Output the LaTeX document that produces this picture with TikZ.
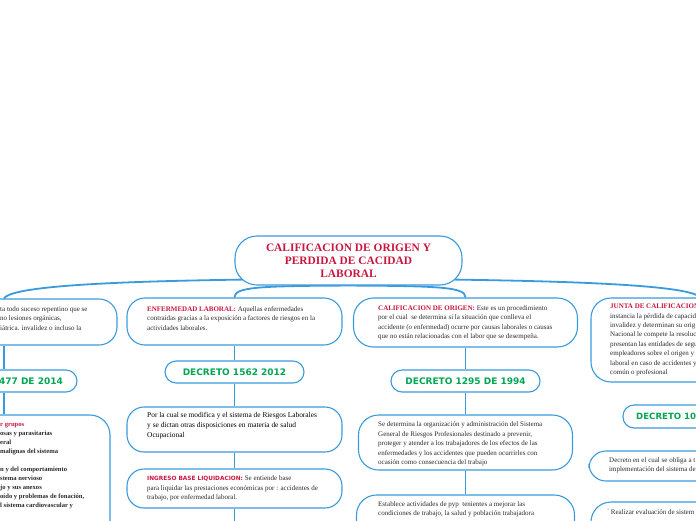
\documentclass[tikz,border=0pt]{standalone}
\usepackage{fontspec}
\setmainfont{Liberation Serif}
\newfontfamily\dvs{DejaVu Sans}
\usetikzlibrary{backgrounds}
\definecolor{bblue}{HTML}{3A9BDC}
\definecolor{tred}{HTML}{C8163F}
\definecolor{tgreen}{HTML}{00A651}
\definecolor{tbody}{HTML}{2B2B2B}
\definecolor{tbullet}{HTML}{A98FD8}
\begin{document}
\begin{tikzpicture}[x=1pt,y=-1pt,
  box/.style={draw=bblue, line width=1.1pt, fill=white, rounded corners=#1, inner sep=0pt},
  box/.default=18pt,
  conn/.style={draw=bblue, line width=1.8pt},
  txt/.style={inner sep=0pt, align=left, text=tbody, font=\fontsize{7}{9.4}\selectfont},
  dec/.style={font=\dvs\bfseries\fontsize{9}{11}\selectfont, text=tgreen, inner sep=0pt},
  hdr/.style={text=tred, font=\bfseries},
]
\useasboundingbox (0,0) rectangle (696,520);
\clip (0,0) rectangle (696,520);

% root
\node[box=22pt, minimum width=227pt, minimum height=49pt, align=center, text=tred,
      font=\bfseries\fontsize{11.4}{13}\selectfont] (root) at (348.5,260.5)
      {CALIFICACION DE ORIGEN Y\\PERDIDA DE CACIDAD\\LABORAL};

% column 1 (left, cut)
\node[box, minimum width=226pt, minimum height=46pt] (l1) at (4,322) {};
\node[txt, anchor=west] (l1t) at (0,318.5)
  {ta todo suceso repentino que se\\no lesiones orgánicas,\\iátrica. invalidez o incluso la};
\node[box=11pt, minimum width=146pt, minimum height=22pt] (dl) at (4,381) {};
\node[dec, anchor=east] (dlt) at (63,381) {477 DE 2014};
\node[box=20pt, minimum width=212pt, minimum height=155pt] (l3) at (4,492.5) {};
\node[txt, anchor=west, font=\bfseries\fontsize{6.6}{8.9}\selectfont] (l3t) at (0,466)
  {\textcolor{tred}{r grupos}\\osas y parasitarias\\eral\\malignas del sistema\\\mbox{}\\n y del comportamiento\\stema nervioso\\jo y sus anexos\\oído y problemas de fonación,\\l sistema cardiovascular y};

% column 2
\node[box, minimum width=215pt, minimum height=47pt] (b2) at (234.5,321.5) {};
\node[txt, anchor=west] (b2t) at (147,318.5)
  {{\color{tred}\bfseries ENFERMEDAD LABORAL:} Aquellas enfermedades\\contraidas gracias a la exposición a factores de riesgos en la\\actividades laborales.};
\node[box=11pt, minimum width=139pt, minimum height=22pt, dec] (d2) at (234.5,372) {DECRETO 1562 2012};
\node[box=17pt, minimum width=215pt, minimum height=45pt] (b2a) at (234.5,429.5) {};
\node[txt, anchor=west, font=\fontsize{7.4}{10}\selectfont, text=black] (b2at) at (147,426)
  {Por la cual se modifica y el sistema de Riesgos Laborales\\y se dictan otras disposiciones en materia de salud\\Ocupacional};
\node[box=17pt, minimum width=215pt, minimum height=39pt] (b2b) at (234.5,488.5) {};
\node[txt, anchor=west] (b2bt) at (147,488.7)
  {{\dvs\bfseries\color{tred}\fontsize{5.8}{9.4}\selectfont INGRESO BASE LIQUIDACION:} Se entiende base\\para liquidar las prestaciones económicas por : accidentes de\\trabajo, por enfermedad laboral.};
\coordinate (c2) at (234.5,530);

% column 3
\node[box=20pt, minimum width=224pt, minimum height=49pt] (b3) at (465.5,322.5) {};
\node[txt, anchor=west] (b3t) at (378,323)
  {{\color{tred}\bfseries CALIFICACION DE ORIGEN:} Este es un procedimiento\\por el cual\ \ se determina si la situación que conlleva el\\accidente (o enfermedad) ocurre por causas laborales o causas\\que no están relacionadas con el labor que se desempeña.};
\node[box=11pt, minimum width=149pt, minimum height=22pt, dec] (d3) at (465.5,381) {DECRETO 1295 DE 1994};
\node[box=20pt, minimum width=214pt, minimum height=55pt] (b3a) at (465.5,442.5) {};
\node[txt, anchor=west] (b3at) at (378,444)
  {Se determina la organización y administración del Sistema\\General de Riesgos Profesionales destinado a prevenir,\\proteger y atender a los trabajadores de los efectos de las\\enfermedades y los accidentes que pueden ocurrirles con\\ocasión como consecuencia del trabajo};
\node[box=20pt, minimum width=218pt, minimum height=50pt] (b3b) at (465.5,520) {};
\node[txt, anchor=west] (b3bt) at (378,509.5)
  {Establece actividades de pyp\ \ tenientes a mejorar las\\condiciones de trabajo, la salud y población trabajadora};

% column 4 (right, cut)
\node[box=20pt, minimum width=218pt, minimum height=84pt] (r1) at (700,340) {};
\node[txt, anchor=west] (r1t) at (610,340)
  {{\color{tred}\bfseries JUNTA DE CALIFICACION}\\instancia la pérdida de capacid\\invalidez y determinan su orig\\Nacional le compete la resoluc\\presentan las entidades de segu\\empleadores sobre el origen y\\laboral en caso de accidentes y\\común o profesional};
\node[box=11pt, minimum width=154pt, minimum height=23pt] (dr) at (700,416.5) {};
\node[dec, anchor=west, font=\dvs\bfseries\fontsize{8.6}{11}\selectfont] (drt) at (636,416.5) {DECRETO 10};
\node[box=17pt, minimum width=222pt, minimum height=30pt] (r3a) at (700,466) {};
\node[txt, anchor=west] (r3at) at (609,465.5)
  {Decreto en el cual se obliga a t\\implementación del sistema de};
\node[box=20pt, minimum width=218pt, minimum height=60pt] (r3b) at (700,532) {};
\node[txt, anchor=west] (r3bt) at (607,511.5)
  {\raisebox{1.5pt}{\textcolor{tbullet}{\dvs\fontsize{5}{6}\selectfont°}}\,Realizar evaluación de sistem};

% connectors
\begin{scope}[on background layer]
\draw[conn] ([xshift=10pt,yshift=6pt]root.south west) .. controls (150,281) and (12,284) .. (l1.north);
\draw[conn] ([xshift=-10pt,yshift=6pt]root.south east) .. controls (550,281) and (690,284) .. (r1.north);
\draw[conn] (root.south) .. controls (258,286) and (234.5,287) .. (b2.north);
\draw[conn] (root.south) .. controls (440,286) and (465.5,287) .. (b3.north);
\draw[conn] (l1.south) -- (dl.north);
\draw[conn] (dl.south) -- (l3.north);
\draw[conn] (b2.south) -- (d2.north);
\draw[conn] (d2.south) -- (b2a.north);
\draw[conn] (b2a.south) -- (b2b.north);
\draw[conn] (b2b.south) -- (c2);
\draw[conn] (b3.south) -- (d3.north);
\draw[conn] (d3.south) -- (b3a.north);
\draw[conn] (b3a.south) -- (b3b.north);
\draw[conn] (r1.south) -- (dr.north);
\draw[conn] (dr.south) -- (r3a.north);
\draw[conn] (r3a.south) -- (r3b.north);
\end{scope}
\end{tikzpicture}
\end{document}
